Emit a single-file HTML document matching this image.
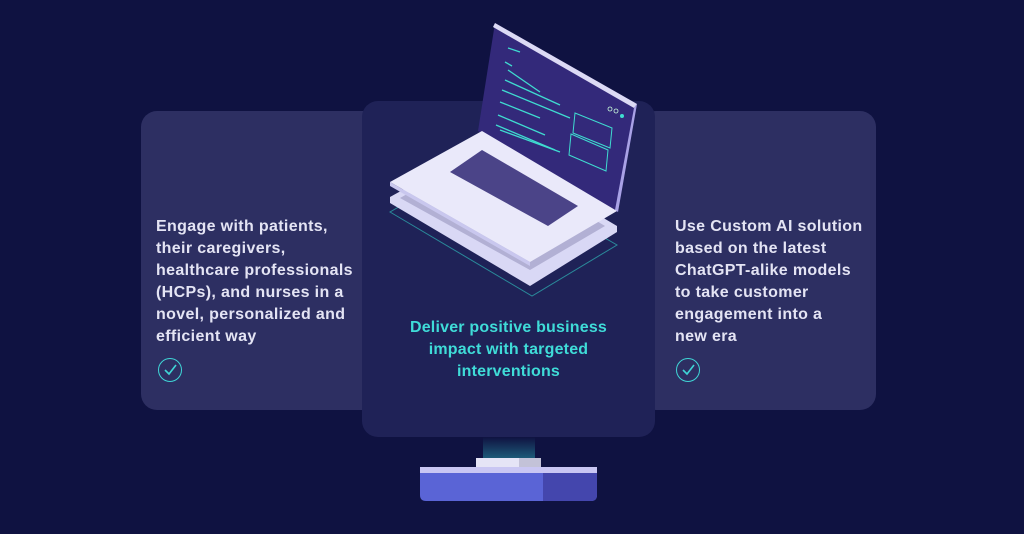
<!DOCTYPE html>
<html><head><style>
body{margin:0;width:1024px;height:534px;background:#0f1241;position:relative;overflow:hidden;font-family:"Liberation Sans",sans-serif}
.card{position:absolute;border-radius:16px}
.t{position:absolute;color:#e4e4f4;font-weight:bold;font-size:16px;line-height:22px;letter-spacing:0.35px}
.chk{position:absolute;width:24px;height:24px;border:1.5px solid #3fd6d6;border-radius:50%;box-sizing:border-box}
</style></head><body>
<div class="card" style="left:141px;top:111px;width:240px;height:299px;background:#2d2f62"></div>
<div class="card" style="left:640px;top:111px;width:236px;height:299px;background:#2d2f62"></div>
<div class="card" style="left:362px;top:101px;width:293px;height:336px;background:#1f2257"></div>
<div class="t" style="left:156px;top:216px">Engage with patients,<br>their caregivers,<br>healthcare professionals<br>(HCPs), and nurses in a<br>novel, personalized and<br>efficient way</div>
<div class="t" style="left:675px;top:216px">Use Custom AI solution<br>based on the latest<br>ChatGPT-alike models<br>to take customer<br>engagement into a<br>new era</div>
<div class="t" style="left:362px;width:293px;text-align:center;top:317px;color:#3fdcd8;letter-spacing:0.2px">Deliver positive business<br>impact with targeted<br>interventions</div>
<div class="chk" style="left:158px;top:358px"></div>
<div class="chk" style="left:676px;top:358px"></div>
<svg style="position:absolute;left:0;top:0" width="1024" height="534">
<defs><linearGradient id="g" x1="0" y1="0" x2="0" y2="1"><stop offset="0" stop-color="#0f1241"/><stop offset="1" stop-color="#1d5a78"/></linearGradient></defs>
<polyline points="165,370 169,374 176,365" fill="none" stroke="#3fd6d6" stroke-width="1.6"/>
<polyline points="683,370 687,374 694,365" fill="none" stroke="#3fd6d6" stroke-width="1.6"/>
<polygon points="390,212 532,296 617,245 475,163" fill="none" stroke="#2a8a9a" stroke-width="1"/>
<polygon points="390,197 482,146 617,226 617,232 530,286 390,203" fill="#d9d8f5"/>
<polygon points="400,198 482,152 605,226 530,270" fill="#b2b0d4"/>
<polygon points="495,23 637,104 618,212 478,131" fill="#33297a"/>
<polygon points="495,23 637,104 634,108 493,27" fill="#dcdaf5"/>
<polygon points="634,108 637,104 618,212 615,210" fill="#a9a2e6"/>
<polygon points="390,182 482,131 617,211 530,262" fill="#eae9fa"/>
<polygon points="390,182 530,262 530,266 390,186" fill="#c9c7ee"/>
<polygon points="450,172 482,150 578,206 548,226" fill="#4b4488"/>
<g stroke="#3fdcd0" stroke-width="1.3">
<line x1="508" y1="48" x2="520" y2="52"/><line x1="505" y1="62" x2="512" y2="66"/><line x1="508" y1="70" x2="540" y2="92"/>
<line x1="505" y1="80" x2="560" y2="105"/><line x1="502" y1="90" x2="570" y2="118"/><line x1="500" y1="102" x2="540" y2="118"/>
<line x1="498" y1="115" x2="545" y2="135"/><line x1="496" y1="125" x2="555" y2="150"/><line x1="500" y1="130" x2="560" y2="152"/>
</g>
<polygon points="575,113 612,128 610,148 573,133" fill="none" stroke="#3fdcd0" stroke-width="1"/>
<polygon points="571,134 608,150 606,171 569,155" fill="none" stroke="#3fdcd0" stroke-width="1"/>
<circle cx="610" cy="109" r="2" fill="none" stroke="#cfd" stroke-width="0.8"/><circle cx="616" cy="111" r="2" fill="none" stroke="#cfd" stroke-width="0.8"/><circle cx="622" cy="116" r="2" fill="#3fdcd0"/>
<rect x="483" y="437" width="52" height="21" fill="url(#g)"/>
<rect x="476" y="458" width="43" height="10" fill="#e5e4f6"/>
<rect x="519" y="458" width="22" height="10" fill="#c3c2d8"/>
<rect x="420" y="467" width="177" height="6" fill="#c9c6f3"/>
<path d="M420,473 H597 V495 Q597,501 591,501 H426 Q420,501 420,495 Z" fill="#5a64d6"/>
<path d="M543,473 H597 V495 Q597,501 591,501 H543 Z" fill="#4446ad"/>
</svg>
</body></html>
